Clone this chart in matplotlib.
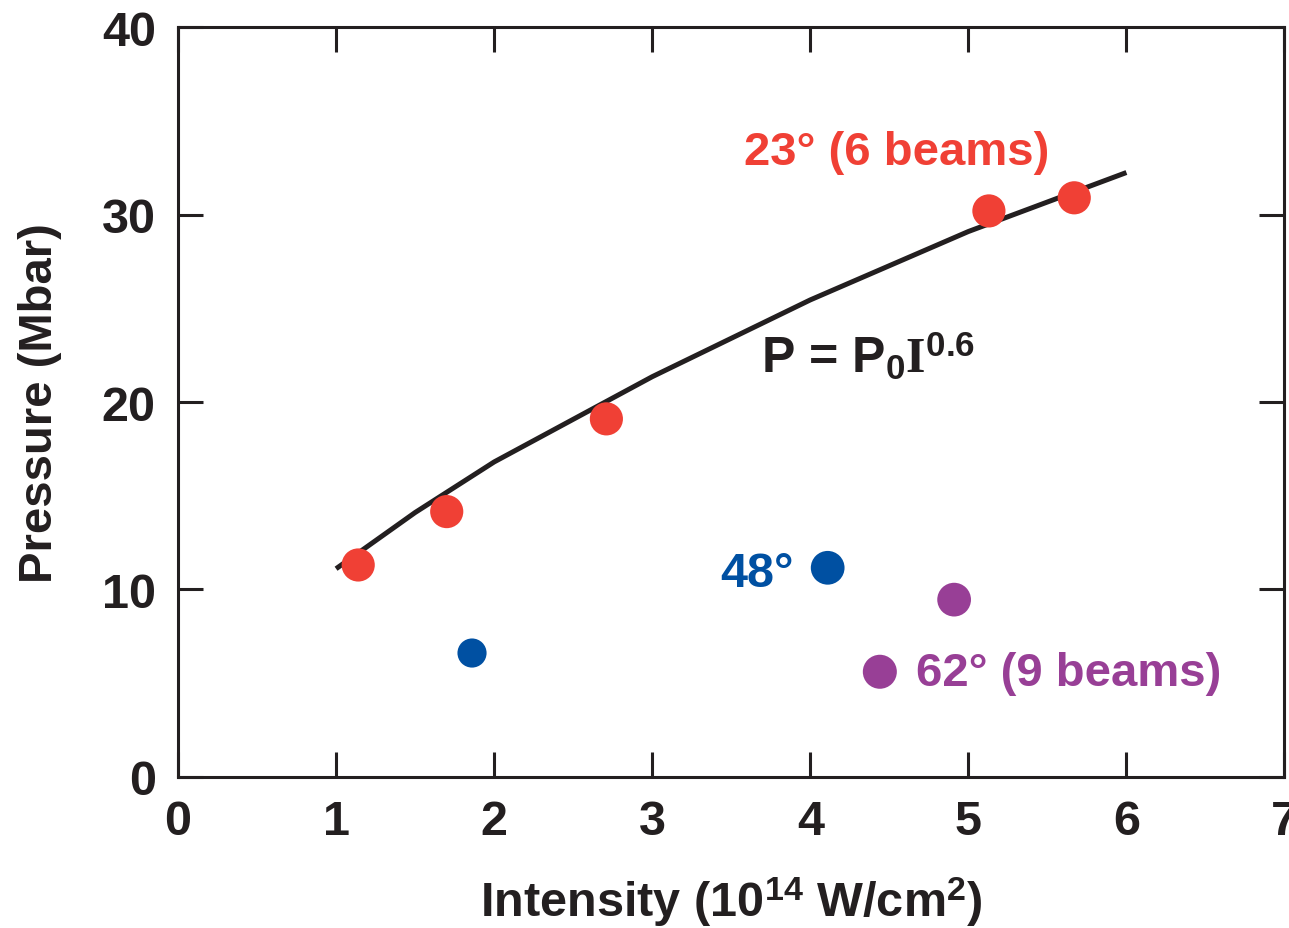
import matplotlib
matplotlib.use("Agg")
import matplotlib.pyplot as plt

# data (intensity in 1e14 W/cm2, pressure in Mbar)
red_intensity = [1.14, 1.70, 2.71, 5.13, 5.67]
red_pressure = [11.3, 14.15, 19.1, 30.2, 30.9]

blue_intensity = [1.86, 4.11]
blue_pressure = [6.6, 11.15]

purple_intensity = [4.91, 4.44]
purple_pressure = [9.45, 5.6]

# the P = P0 I^0.6 curve, as drawn
fit_intensity = [1.0, 1.5, 2.0, 3.0, 4.0, 5.0, 6.0]
fit_pressure = [11.1, 14.1, 16.8, 21.35, 25.45, 29.1, 32.25]

xticks = [0, 1, 2, 3, 4, 5, 6, 7]
yticks = [0, 10, 20, 30, 40]

red = "#F04035"
blue = "#0050A2"
purple = "#983F96"
black = "#231F20"

plt.rcParams["font.family"] = ["Liberation Sans", "DejaVu Sans"]
plt.rcParams["font.weight"] = "bold"
plt.rcParams["mathtext.fontset"] = "custom"
plt.rcParams["mathtext.rm"] = "Liberation Sans:bold"
plt.rcParams["mathtext.bf"] = "Liberation Sans:bold"
plt.rcParams["mathtext.it"] = "Liberation Serif:bold"

fig = plt.figure(figsize=(12.89, 9.29), dpi=100)
ax = fig.add_axes([0.1381, 0.1629, 0.9965 - 0.1381, 0.9695 - 0.1629])

ax.plot(fit_intensity, fit_pressure, color=black, lw=3.6, solid_capstyle="butt", zorder=2)
ax.scatter(red_intensity, red_pressure, s=570, color=red, edgecolors="none", zorder=3)
ax.scatter(blue_intensity, blue_pressure, s=[440, 590], color=blue, edgecolors="none", zorder=3)
ax.scatter(purple_intensity, purple_pressure, s=[590, 600], color=purple, edgecolors="none", zorder=3)

fs = 34
ax.text(3.58, 32.7, "23° (6 beams)", color=red, fontsize=fs, fontweight="bold", va="baseline")
ax.text(3.69, 21.6, r"P = P$_0$$\mathit{I}$$^{0.6}$", color=black, fontsize=36, fontweight="bold", va="baseline")
ax.text(3.43, 10.2, "48°", color=blue, fontsize=35, fontweight="bold", va="baseline")
ax.text(4.67, 4.9, "62° (9 beams)", color=purple, fontsize=fs, fontweight="bold", va="baseline")

ax.set_xlim(0, 7)
ax.set_ylim(0, 40)
ax.set_xticks(xticks)
ax.set_yticks(yticks)
ax.tick_params(which="both", direction="in", length=18, width=2.2, color=black,
               top=True, right=True, labelsize=35, pad=16)
for lab in ax.get_xticklabels() + ax.get_yticklabels():
    lab.set_fontweight("bold")
    lab.set_color(black)
for sp in ax.spines.values():
    sp.set_linewidth(2.2)
    sp.set_color(black)

ax.set_xlabel(r"Intensity (10$^{14}$ W/cm$^{2}$)", fontsize=35, fontweight="bold", color=black, labelpad=22)
ax.set_ylabel("Pressure (Mbar)", fontsize=34, fontweight="bold", color=black, labelpad=29)

plt.savefig("out.png", dpi=100)
plt.close()
